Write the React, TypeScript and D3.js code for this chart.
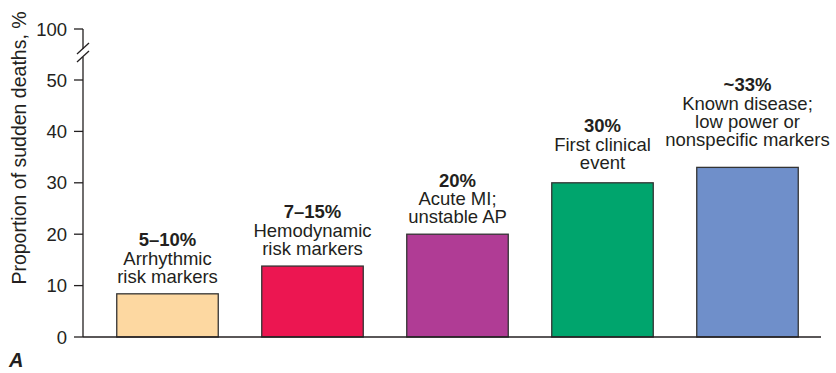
import * as React from "react";
import * as d3 from "d3";

// values (percent of sudden deaths)
const categories = ["arrhythmic", "hemodynamic", "acuteMI", "firstEvent", "knownDisease"];
const values = [8.4, 13.8, 20, 30, 33];
const headlines = ["5–10%", "7–15%", "20%", "30%", "~33%"];
const descriptions = [
    ["Arrhythmic", "risk markers"],
    ["Hemodynamic", "risk markers"],
    ["Acute MI;", "unstable AP"],
    ["First clinical", "event"],
    ["Known disease;", "low power or", "nonspecific markers"],
];
const colors = ["#fdd8a1", "#ec1651", "#b03c95", "#00a56d", "#6f8fca"];
const tickValues = [0, 10, 20, 30, 40, 50, 100];

const width = 836;
const height = 373;
const ink = "#231f20";
const font = "'Liberation Sans', Arial, sans-serif";

export default function App() {
    const ref = React.useRef<SVGSVGElement>(null);

    React.useEffect(() => {
        const svg = d3.select(ref.current);
        svg.selectAll("*").remove();

        const axisX = 83;
        // broken axis: 0..50 linear, then a jump to 100
        const y = d3.scaleLinear().domain([0, 50, 100]).range([337, 80, 29]);
        const x = d3.scaleBand().domain(categories).range([95, 820]).paddingInner(0.3).paddingOuter(0.15);

        // bars
        svg.append("g")
            .selectAll("rect")
            .data(values)
            .join("rect")
            .attr("x", (d, i) => x(categories[i]))
            .attr("y", d => y(d))
            .attr("width", x.bandwidth())
            .attr("height", d => y(0) - y(d))
            .attr("fill", (d, i) => colors[i])
            .attr("stroke", "#333")
            .attr("stroke-width", 1.3);

        // labels above bars
        const lineH = 18.3;
        const extraLift = [0, 0, 0, 3, 10];
        values.forEach((v, i) => {
            const cx = x(categories[i]) + x.bandwidth() / 2;
            const lines = descriptions[i];
            const bottom = y(v) - 11 - extraLift[i];
            const t = svg.append("text")
                .attr("text-anchor", "middle")
                .attr("font-family", font)
                .attr("font-size", 18.5)
                .attr("fill", ink);
            t.append("tspan")
                .attr("x", cx)
                .attr("y", bottom - lines.length * lineH)
                .attr("font-weight", "bold")
                .text(headlines[i]);
            lines.forEach((l, j) => {
                t.append("tspan")
                    .attr("x", cx)
                    .attr("y", bottom - (lines.length - 1 - j) * lineH)
                    .text(l);
            });
        });

        // axes
        const axis = svg.append("g").attr("stroke", ink).attr("stroke-width", 1.3).attr("fill", "none");
        axis.append("line").attr("x1", axisX).attr("x2", 821).attr("y1", y(0)).attr("y2", y(0));
        axis.append("line").attr("x1", axisX).attr("x2", axisX).attr("y1", y(0)).attr("y2", 57);
        axis.append("line").attr("x1", axisX).attr("x2", axisX).attr("y1", 49).attr("y2", y(100));
        axis.append("line").attr("x1", 77).attr("y1", 54).attr("x2", 89).attr("y2", 43);
        axis.append("line").attr("x1", 77).attr("y1", 62).attr("x2", 89).attr("y2", 51);

        axis.selectAll(".tick")
            .data(tickValues)
            .join("line")
            .attr("x1", axisX - 9)
            .attr("x2", axisX)
            .attr("y1", d => y(d))
            .attr("y2", d => y(d));

        svg.append("g")
            .selectAll("text")
            .data(tickValues)
            .join("text")
            .attr("x", axisX - 16)
            .attr("y", d => y(d))
            .attr("dy", "0.36em")
            .attr("text-anchor", "end")
            .attr("font-family", font)
            .attr("font-size", 18.5)
            .attr("fill", ink)
            .text(d => d);

        svg.append("text")
            .attr("transform", `translate(26,${148}) rotate(-90)`)
            .attr("text-anchor", "middle")
            .attr("font-family", font)
            .attr("font-size", 19.5)
            .attr("fill", ink)
            .text("Proportion of sudden deaths, %");

        svg.append("text")
            .attr("x", 9)
            .attr("y", 367)
            .attr("font-family", font)
            .attr("font-size", 20)
            .attr("font-weight", "bold")
            .attr("font-style", "italic")
            .attr("fill", ink)
            .text("A");
    }, []);

    return (
        <svg ref={ref} width={width} height={height}
             style={{position: "absolute", left: 0, top: 0, background: "#fff"}}/>
    );
}
